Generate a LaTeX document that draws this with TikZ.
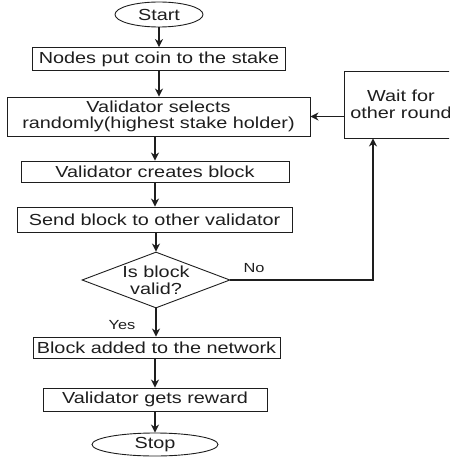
\documentclass[tikz,border=0pt]{standalone}
\usepackage{fontspec}
\setmainfont[FakeStretch=1.24]{Liberation Sans}
\usetikzlibrary{shapes.geometric,arrows.meta}
\definecolor{ink}{HTML}{1E1E1E}
\begin{document}
\begin{tikzpicture}[x=1pt,y=-1pt,
  every node/.style={text=ink},
  box/.style={draw=ink, line width=0.9pt, inner sep=0pt, align=center,
    font=\fontsize{16}{16.7}\selectfont},
  term/.style={box, ellipse},
  decision/.style={box, diamond, aspect=2.64},
  arr/.style={draw=ink, line width=1.2pt,
    -{Stealth[length=8pt,width=8pt,inset=2.5pt]}},
  lbl/.style={font=\fontsize{13.2}{14}\selectfont, inner sep=0pt}]
\useasboundingbox (0,0) rectangle (449,457);
\clip (0,0) rectangle (449,457);

% main column
\node[term, minimum width=88pt, minimum height=25pt] (start) at (159,14.5) {Start};
\node[box, minimum width=253pt, minimum height=23pt] (put) at (159,59) {Nodes put coin to the stake};
\node[box, minimum width=303pt, minimum height=39pt] (select) at (158.5,116.5)
  {Validator selects\\randomly(highest stake holder)};
\node[box, minimum width=268pt, minimum height=21pt] (create) at (155,171.5) {Validator creates block};
\node[box, minimum width=275pt, minimum height=25pt] (send) at (154.5,219.5) {Send block to other validator};
\node[decision, minimum width=148pt, minimum height=56pt] (valid) at (156,280) {Is block\\valid?};
\node[box, minimum width=247pt, minimum height=21pt] (added) at (156.5,347.5) {Block added to the network};
\node[box, minimum width=224pt, minimum height=23pt] (reward) at (155,399.5) {Validator gets reward};
\node[term, minimum width=126pt, minimum height=23pt] (stop) at (155,444.5) {Stop};

% waiting box on the right
\node[box, minimum width=114pt, minimum height=67pt] (wait) at (401,104.5) {Wait for\\other round};

% flow
\draw[arr] (start.south) -- (start.south |- put.north);
\draw[arr] (put.south) -- (put.south |- select.north);
\draw[arr] (create.north |- select.south) -- (create.north);
\draw[arr] (create.south) -- (create.south |- send.north);
\draw[arr] (valid.north |- send.south) -- (valid.north);
\draw[arr] (valid.south) -- (valid.south |- added.north);
\draw[arr] (reward.north |- added.south) -- (reward.north);
\draw[arr] (reward.south) -- (reward.south |- stop.north);

% loop back when the block is not valid
\draw[arr] (valid.east) -| ([xshift=-28pt]wait.south);
\draw[arr] (wait.west |- select.east) -- (select.east);

% branch labels
\node[lbl] (no) at (254,268) {No};
\node[lbl] (yes) at (122,325) {Yes};
\end{tikzpicture}
\end{document}
